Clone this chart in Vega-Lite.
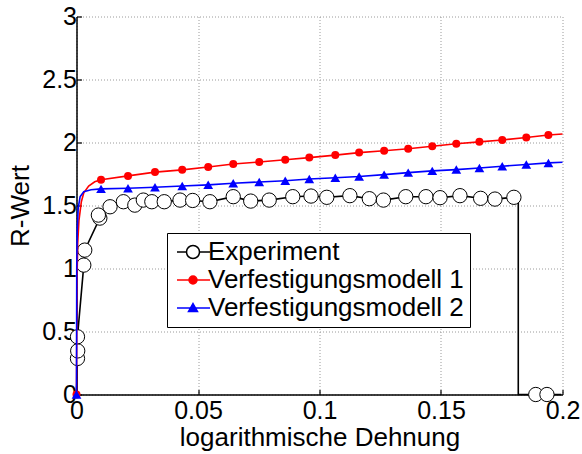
{
  "$schema": "https://vega.github.io/schema/vega-lite/v6.json",
  "width": 486,
  "height": 378,
  "autosize": {"type": "none"},
  "padding": {"left": 76.5, "top": 16.5, "right": 19.5, "bottom": 59.5},
  "background": "white",
  "config": {
    "view": {"stroke": null},
    "font": "Liberation Sans",
    "axis": {
      "grid": true,
      "gridDash": [1, 2],
      "gridColor": "#9a9a9a",
      "gridWidth": 1,
      "domainColor": "black",
      "domainWidth": 1.5,
      "tickColor": "black",
      "tickWidth": 1.2,
      "tickSize": -5,
      "labelFont": "Liberation Sans",
      "labelFontSize": 25,
      "labelColor": "black",
      "labelOverlap": false,
      "labelFlush": false,
      "titleFont": "Liberation Sans",
      "titleFontSize": 26,
      "titleFontWeight": "normal",
      "titleColor": "black"
    }
  },
  "data": {
    "values": [
      {"s": "Experiment", "i": 0, "x": 0, "y": 0, "m": 0},
      {"s": "Experiment", "i": 1, "x": 0.0004, "y": 0.286, "m": 1},
      {"s": "Experiment", "i": 2, "x": 0.0005, "y": 0.346, "m": 1},
      {"s": "Experiment", "i": 3, "x": 0.0004, "y": 0.458, "m": 1},
      {"s": "Experiment", "i": 4, "x": 0.003, "y": 1.027, "m": 1},
      {"s": "Experiment", "i": 5, "x": 0.0034, "y": 1.146, "m": 1},
      {"s": "Experiment", "i": 6, "x": 0.0096, "y": 1.4, "m": 1},
      {"s": "Experiment", "i": 7, "x": 0.009, "y": 1.424, "m": 1},
      {"s": "Experiment", "i": 8, "x": 0.0138, "y": 1.49, "m": 1},
      {"s": "Experiment", "i": 9, "x": 0.0193, "y": 1.53, "m": 1},
      {"s": "Experiment", "i": 10, "x": 0.024, "y": 1.503, "m": 1},
      {"s": "Experiment", "i": 11, "x": 0.0275, "y": 1.543, "m": 1},
      {"s": "Experiment", "i": 12, "x": 0.031, "y": 1.53, "m": 1},
      {"s": "Experiment", "i": 13, "x": 0.0361, "y": 1.53, "m": 1},
      {"s": "Experiment", "i": 14, "x": 0.0426, "y": 1.543, "m": 1},
      {"s": "Experiment", "i": 15, "x": 0.0478, "y": 1.54, "m": 1},
      {"s": "Experiment", "i": 16, "x": 0.0549, "y": 1.53, "m": 1},
      {"s": "Experiment", "i": 17, "x": 0.0645, "y": 1.57, "m": 1},
      {"s": "Experiment", "i": 18, "x": 0.0717, "y": 1.535, "m": 1},
      {"s": "Experiment", "i": 19, "x": 0.0793, "y": 1.543, "m": 1},
      {"s": "Experiment", "i": 20, "x": 0.089, "y": 1.57, "m": 1},
      {"s": "Experiment", "i": 21, "x": 0.0965, "y": 1.575, "m": 1},
      {"s": "Experiment", "i": 22, "x": 0.103, "y": 1.565, "m": 1},
      {"s": "Experiment", "i": 23, "x": 0.1125, "y": 1.578, "m": 1},
      {"s": "Experiment", "i": 24, "x": 0.1205, "y": 1.554, "m": 1},
      {"s": "Experiment", "i": 25, "x": 0.1263, "y": 1.543, "m": 1},
      {"s": "Experiment", "i": 26, "x": 0.1355, "y": 1.57, "m": 1},
      {"s": "Experiment", "i": 27, "x": 0.1438, "y": 1.57, "m": 1},
      {"s": "Experiment", "i": 28, "x": 0.1496, "y": 1.562, "m": 1},
      {"s": "Experiment", "i": 29, "x": 0.1578, "y": 1.578, "m": 1},
      {"s": "Experiment", "i": 30, "x": 0.1663, "y": 1.557, "m": 1},
      {"s": "Experiment", "i": 31, "x": 0.1722, "y": 1.551, "m": 1},
      {"s": "Experiment", "i": 32, "x": 0.18, "y": 1.565, "m": 1},
      {"s": "Experiment", "i": 33, "x": 0.1818, "y": 1.56, "m": 0},
      {"s": "Experiment", "i": 34, "x": 0.1818, "y": 0, "m": 0},
      {"s": "Experiment", "i": 35, "x": 0.189, "y": 0, "m": 1},
      {"s": "Experiment", "i": 36, "x": 0.1936, "y": 0, "m": 1},
      {"s": "Experiment", "i": 37, "x": 0.1995, "y": 0, "m": 0},

      {"s": "Verfestigungsmodell 1", "i": 0, "x": 0, "y": 0, "m": 1},
      {"s": "Verfestigungsmodell 1", "i": 1, "x": 0.0002, "y": 0.9, "m": 0},
      {"s": "Verfestigungsmodell 1", "i": 2, "x": 0.0005, "y": 1.2, "m": 0},
      {"s": "Verfestigungsmodell 1", "i": 3, "x": 0.001, "y": 1.38, "m": 0},
      {"s": "Verfestigungsmodell 1", "i": 4, "x": 0.002, "y": 1.53, "m": 0},
      {"s": "Verfestigungsmodell 1", "i": 5, "x": 0.003, "y": 1.6, "m": 0},
      {"s": "Verfestigungsmodell 1", "i": 6, "x": 0.005, "y": 1.655, "m": 0},
      {"s": "Verfestigungsmodell 1", "i": 7, "x": 0.0075, "y": 1.688, "m": 0},
      {"s": "Verfestigungsmodell 1", "i": 8, "x": 0.0101, "y": 1.705, "m": 1},
      {"s": "Verfestigungsmodell 1", "i": 9, "x": 0.0212, "y": 1.735, "m": 1},
      {"s": "Verfestigungsmodell 1", "i": 10, "x": 0.0323, "y": 1.765, "m": 1},
      {"s": "Verfestigungsmodell 1", "i": 11, "x": 0.0435, "y": 1.783, "m": 1},
      {"s": "Verfestigungsmodell 1", "i": 12, "x": 0.0542, "y": 1.805, "m": 1},
      {"s": "Verfestigungsmodell 1", "i": 13, "x": 0.0645, "y": 1.829, "m": 1},
      {"s": "Verfestigungsmodell 1", "i": 14, "x": 0.0752, "y": 1.845, "m": 1},
      {"s": "Verfestigungsmodell 1", "i": 15, "x": 0.0859, "y": 1.863, "m": 1},
      {"s": "Verfestigungsmodell 1", "i": 16, "x": 0.0958, "y": 1.88, "m": 1},
      {"s": "Verfestigungsmodell 1", "i": 17, "x": 0.1065, "y": 1.9, "m": 1},
      {"s": "Verfestigungsmodell 1", "i": 18, "x": 0.1163, "y": 1.92, "m": 1},
      {"s": "Verfestigungsmodell 1", "i": 19, "x": 0.1266, "y": 1.935, "m": 1},
      {"s": "Verfestigungsmodell 1", "i": 20, "x": 0.1365, "y": 1.95, "m": 1},
      {"s": "Verfestigungsmodell 1", "i": 21, "x": 0.1464, "y": 1.97, "m": 1},
      {"s": "Verfestigungsmodell 1", "i": 22, "x": 0.1563, "y": 1.99, "m": 1},
      {"s": "Verfestigungsmodell 1", "i": 23, "x": 0.1658, "y": 2.005, "m": 1},
      {"s": "Verfestigungsmodell 1", "i": 24, "x": 0.1752, "y": 2.02, "m": 1},
      {"s": "Verfestigungsmodell 1", "i": 25, "x": 0.1851, "y": 2.04, "m": 1},
      {"s": "Verfestigungsmodell 1", "i": 26, "x": 0.1942, "y": 2.06, "m": 1},
      {"s": "Verfestigungsmodell 1", "i": 27, "x": 0.2, "y": 2.068, "m": 0},

      {"s": "Verfestigungsmodell 2", "i": 0, "x": 0, "y": 0, "m": 1},
      {"s": "Verfestigungsmodell 2", "i": 1, "x": 0.0001, "y": 1.0, "m": 0},
      {"s": "Verfestigungsmodell 2", "i": 2, "x": 0.0003, "y": 1.3, "m": 0},
      {"s": "Verfestigungsmodell 2", "i": 3, "x": 0.0007, "y": 1.48, "m": 0},
      {"s": "Verfestigungsmodell 2", "i": 4, "x": 0.0015, "y": 1.57, "m": 0},
      {"s": "Verfestigungsmodell 2", "i": 5, "x": 0.003, "y": 1.61, "m": 0},
      {"s": "Verfestigungsmodell 2", "i": 6, "x": 0.006, "y": 1.625, "m": 0},
      {"s": "Verfestigungsmodell 2", "i": 7, "x": 0.0101, "y": 1.632, "m": 1},
      {"s": "Verfestigungsmodell 2", "i": 8, "x": 0.0212, "y": 1.637, "m": 1},
      {"s": "Verfestigungsmodell 2", "i": 9, "x": 0.0323, "y": 1.645, "m": 1},
      {"s": "Verfestigungsmodell 2", "i": 10, "x": 0.0435, "y": 1.655, "m": 1},
      {"s": "Verfestigungsmodell 2", "i": 11, "x": 0.0542, "y": 1.664, "m": 1},
      {"s": "Verfestigungsmodell 2", "i": 12, "x": 0.0645, "y": 1.677, "m": 1},
      {"s": "Verfestigungsmodell 2", "i": 13, "x": 0.0752, "y": 1.687, "m": 1},
      {"s": "Verfestigungsmodell 2", "i": 14, "x": 0.0859, "y": 1.697, "m": 1},
      {"s": "Verfestigungsmodell 2", "i": 15, "x": 0.0958, "y": 1.71, "m": 1},
      {"s": "Verfestigungsmodell 2", "i": 16, "x": 0.1065, "y": 1.72, "m": 1},
      {"s": "Verfestigungsmodell 2", "i": 17, "x": 0.1163, "y": 1.73, "m": 1},
      {"s": "Verfestigungsmodell 2", "i": 18, "x": 0.1266, "y": 1.745, "m": 1},
      {"s": "Verfestigungsmodell 2", "i": 19, "x": 0.1365, "y": 1.761, "m": 1},
      {"s": "Verfestigungsmodell 2", "i": 20, "x": 0.1464, "y": 1.775, "m": 1},
      {"s": "Verfestigungsmodell 2", "i": 21, "x": 0.1563, "y": 1.785, "m": 1},
      {"s": "Verfestigungsmodell 2", "i": 22, "x": 0.1658, "y": 1.798, "m": 1},
      {"s": "Verfestigungsmodell 2", "i": 23, "x": 0.1752, "y": 1.812, "m": 1},
      {"s": "Verfestigungsmodell 2", "i": 24, "x": 0.1851, "y": 1.825, "m": 1},
      {"s": "Verfestigungsmodell 2", "i": 25, "x": 0.1942, "y": 1.838, "m": 1},
      {"s": "Verfestigungsmodell 2", "i": 26, "x": 0.2, "y": 1.843, "m": 0}
    ]
  },
  "encoding": {
    "x": {
      "field": "x",
      "type": "quantitative",
      "scale": {"domain": [0, 0.2], "nice": false, "zero": false},
      "axis": {
        "title": "logarithmische Dehnung",
        "values": [0, 0.05, 0.1, 0.15, 0.2],
        "format": "~g",
        "labelPadding": 9,
        "titleY": 51,
        "titleBaseline": "alphabetic"
      }
    },
    "y": {
      "field": "y",
      "type": "quantitative",
      "scale": {"domain": [0, 3], "nice": false},
      "axis": {
        "title": "R-Wert",
        "values": [0, 0.5, 1, 1.5, 2, 2.5, 3],
        "format": "~g",
        "labelPadding": 5,
        "titleX": -48,
        "titleY": 189,
        "titleAngle": 270,
        "titleBaseline": "alphabetic"
      }
    },
    "order": {"field": "i", "type": "quantitative"}
  },
  "layer": [
    {
      "transform": [{"filter": "datum.s === 'Experiment'"}],
      "mark": {"type": "line", "stroke": "black", "strokeWidth": 1.6, "clip": false}
    },
    {
      "transform": [{"filter": "datum.s === 'Experiment' && datum.m === 1"}],
      "mark": {"type": "point", "shape": "circle", "filled": true, "size": 205, "fill": "white", "stroke": "black", "strokeWidth": 1, "opacity": 1, "clip": false}
    },
    {
      "transform": [{"filter": "datum.s === 'Verfestigungsmodell 1'"}],
      "mark": {"type": "line", "stroke": "#ff0000", "strokeWidth": 1.6, "clip": false}
    },
    {
      "transform": [{"filter": "datum.s === 'Verfestigungsmodell 1' && datum.m === 1"}],
      "mark": {"type": "point", "shape": "circle", "filled": true, "size": 64, "fill": "#ff0000", "strokeWidth": 0, "opacity": 1, "clip": false}
    },
    {
      "transform": [{"filter": "datum.s === 'Verfestigungsmodell 2'"}],
      "mark": {"type": "line", "stroke": "#0000ff", "strokeWidth": 1.6, "clip": false}
    },
    {
      "transform": [{"filter": "datum.s === 'Verfestigungsmodell 2' && datum.m === 1"}],
      "mark": {"type": "point", "shape": "triangle-up", "filled": true, "size": 95, "fill": "#0000ff", "strokeWidth": 0, "opacity": 1, "clip": false}
    },
    {
      "transform": [{"filter": "datum.i < 0"}],
      "mark": {"type": "point", "filled": true, "size": 400, "strokeWidth": 1.5, "opacity": 1},
      "encoding": {
        "shape": {
          "field": "s",
          "type": "nominal",
          "scale": {
            "domain": ["Experiment", "Verfestigungsmodell 1", "Verfestigungsmodell 2"],
            "range": [
              "M-0.9,0H0.05M1.35,0H2.4M0.05,0A0.65,0.65 0 1,0 1.35,0A0.65,0.65 0 1,0 0.05,0Z",
              "M-0.9,0H2.4M0.3,0A0.4,0.4 0 1,0 1.1,0A0.4,0.4 0 1,0 0.3,0Z",
              "M-0.9,0H2.4M0.7,-0.45L1.15,0.35L0.25,0.35Z"
            ]
          },
          "legend": {
            "title": null,
            "orient": "none",
            "legendX": 90.5,
            "legendY": 216.5,
            "padding": 6,
            "strokeColor": "black",
            "fillColor": "white",
            "cornerRadius": 0,
            "labelFont": "Liberation Sans",
            "labelFontSize": 26,
            "labelColor": "black",
            "labelLimit": 0,
            "labelOffset": 9,
            "rowPadding": 2,
            "symbolSize": 400,
            "symbolStrokeWidth": 1.5
          }
        },
        "fill": {
          "field": "s",
          "type": "nominal",
          "scale": {
            "domain": ["Experiment", "Verfestigungsmodell 1", "Verfestigungsmodell 2"],
            "range": ["white", "#ff0000", "#0000ff"]
          }
        },
        "stroke": {
          "field": "s",
          "type": "nominal",
          "scale": {
            "domain": ["Experiment", "Verfestigungsmodell 1", "Verfestigungsmodell 2"],
            "range": ["black", "#ff0000", "#0000ff"]
          }
        }
      }
    }
  ]
}
